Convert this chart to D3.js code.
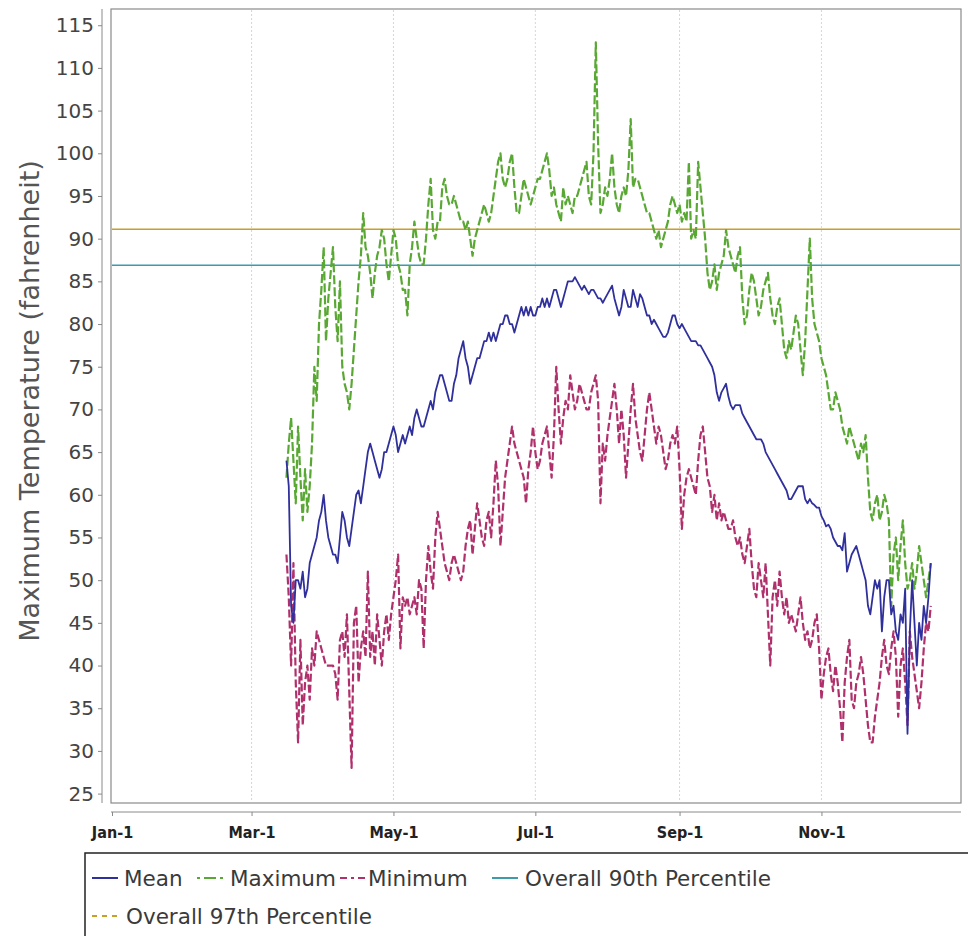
<!DOCTYPE html>
<html><head><meta charset="utf-8">
<script src="https://cdn.jsdelivr.net/npm/d3@7"></script>
<style>body{margin:0;background:#fff}svg{display:block}</style>
</head><body><svg id="c" width="968" height="936"></svg>
<script>
// ---------- DATA ----------
// Daily values starting Mar-16 (day 75 of a leap year) through Dec-17
const firstDay = { month: 2, day: 16 };
const meanValues = [
64,61,47,45,50,50,49,51,48,49,
52,53,54,55,57,58,60,57,55,54,
53,53,52,55,58,57,55,54,56,58,
60,60.5,59,61,63,65,66,65,64,63,
62,63,65,65,66,67,68,67,65,66,
67,66,67,68,67,69,70,69,68,68,
69,70,71,70,72,73,74,74,73,72,
71,71,73,74,76,77,78,76,75,73,
74,75,76,76,77,78,78,79,78,79,
78,79,80,80,81,81,80,80,79,80,
81,82,81,82,81,82,81,81,82,82,
83,82,83,82,83,84,84,83,82,83,
84,85,85,85,85.5,85,84.5,84,84.5,84,
83.5,84,84,83.5,83,83,82.5,83,83.5,84,
84.5,83,82,81,82,84,83,82,82,84,
83,82,83.5,83,82,81,81,80,80.5,80,
79.5,79,78.5,78.5,79,80,81,81,80,79.5,
80,79.5,79,78.5,78,78,78,77.5,77.5,77,
76.5,76,75.5,75,74,72,71,72,72.5,73,
71.5,70.5,70,70.5,70.5,70.5,69.5,69,68.5,68,
67.5,67,66.5,66.5,66.5,66,65,64.5,64,63.5,
63,62.5,62,61.5,61,60.5,59.5,59.5,60,60.5,
61,61,61,59.5,59,59.5,59,58.8,58.5,58.5,
57.5,57,56.3,56.5,56,55,54.5,54,54,53.5,
55.5,51,52,53,53.5,54,53,52,51,50,
47,46,48,50,49,50,44,48,50,50,
46,47,44,43,46,45,49,32,44,50,
45,40,45,43,47,45,48,52
];
const maxValues = [
62,66,69,64,59,68,62,57,63,58,
61,66,75,71,80,84,89,78,83,86,
89,82,78,85,75,73,72,70,73,77,
81,85,88,93,89,88,86,83,86,88,
89,91,90,87,85,88,91,90,87,86,
84,84,81,87,89,92,90,88,87,87,
90,94,97,91,90,92,92,96,97,95,
94,94,95,94,93,92,92,91,92,90,
88,90,91,92,93,94,93,92,93,95,
97,99,100,97,96,97,99,100,96,93,
93,95,97,96,95,94,95,96,97,97,
98,99,100,98,95,96,94,93,92,96,
94,95,94,93,95,95,96,97,98,99,
95,94,100,113,101,93,94,96,95,97,
100,96,94,93,95,96,95,98,104,96,
97,97,96,95,94,93,93,92,91,90,
91,89,90,91,92,94,95,94,93,94,
92,93,92,99,90,91,90,99,96,93,
90,86,84,85,87,84,86,87,88,91,
89,88,87,86,88,89,83,80,81,84,
86,85,83,81,82,84,85,86,83,81,
80,82,83,80,77,76,78,77,79,81,
80,77,74,78,84,90,83,80,79,78,
76,75,74,72,70,70,72,71,70,68,
67,66,68,67,66,65,64,66,65,67,
62,58,57,59,60,57,58,60,59,57,
47,53,55,50,54,57,52,49,50,52,
49,51,54,52,50,48,50,52
];
const minValues = [
53,48,40,52,38,31,43,33,38,40,
36,42,40,44,43,42,41,40,40,40,
40,39,36,43,44,41,46,37,28,45,
47,38,42,44,41,51,41,44,40,46,
43,40,44,46,43,46,48,50,53,42,
48,47,48,46,47,48,46,50,49,42,
50,54,51,49,55,58,56,54,52,51,
50,52,53,52,51,50,51,54,56,57,
53,56,59,57,55,54,57,58,55,59,
64,61,54,58,62,64,66,68,66,65,
64,63,62,59,63,65,68,65,63,64,
66,67,68,65,62,67,75,70,66,69,
71,70,74,72,70,71,73,72,71,70,
70,72,73,74,71,59,66,64,67,69,
71,73,70,66,70,67,62,66,70,73,
69,67,65,64,67,70,72,70,68,66,
68,67,65,63,64,66,67,66,68,63,
56,60,62,63,62,61,60,64,67,68,
65,62,61,58,60,57,59,57,58,57,
56,56,57,55,54,55,53,52,54,56,
52,49,48,52,50,48,52,46,40,48,
50,47,51,48,46,48,45,46,45,44,
46,48,45,43,44,42,43,45,46,42,
36,39,41,42,39,37,40,38,35,31,
38,41,43,36,35,38,39,41,39,36,
33,31,31,34,36,38,41,43,40,39,
42,44,41,34,40,42,38,33,44,41,
39,37,35,38,42,45,44,47
];
const percentile90 = 86.9;
const percentile97 = 91.1;
const yTickValues = [25,30,35,40,45,50,55,60,65,70,75,80,85,90,95,100,105,110,115];
const xTickMonths = [0,2,4,6,8,10];
const xTickLabels = ["Jan-1","Mar-1","May-1","Jul-1","Sep-1","Nov-1"];
const legendLabels = ["Mean","Maximum","Minimum","Overall 90th Percentile","Overall 97th Percentile"];
const yAxisTitle = "Maximum Temperature (fahrenheit)";

// ---------- STYLE ----------
const C = { mean:"#30309c", max:"#5aa834", min:"#b0306c", p90:"#3f9aaa", p97:"#c8a028" };
const FONT = "'DejaVu Sans', Verdana, sans-serif";

const svg = d3.select("#c");
const plot = { left:111, top:9, right:961, bottom:803 };

const x = d3.scaleUtc()
  .domain([Date.UTC(2000,0,1), Date.UTC(2000,11,31)])
  .range([112, 961]);
const y = d3.scaleLinear().domain([23.9, 116.9]).range([plot.bottom, plot.top]);
const dateAt = i => new Date(Date.UTC(2000, firstDay.month, firstDay.day + i));

// plot background & border
svg.append("rect").attr("x",plot.left).attr("y",plot.top)
  .attr("width",plot.right-plot.left).attr("height",plot.bottom-plot.top)
  .attr("fill","#fff").attr("stroke","#8a8a8a").attr("stroke-width",1.2);

const tickDates = xTickMonths.map(m => new Date(Date.UTC(2000,m,1)));
// vertical grid lines
svg.append("g").selectAll("line").data(tickDates.slice(1)).join("line")
  .attr("x1",d=>x(d)).attr("x2",d=>x(d))
  .attr("y1",plot.top+1).attr("y2",plot.bottom-1)
  .attr("stroke","#d6d6d6").attr("stroke-width",1).attr("stroke-dasharray","2,2");

// percentile lines
svg.append("line").attr("x1",plot.left+1).attr("x2",plot.right-1)
  .attr("y1",y(percentile97)).attr("y2",y(percentile97))
  .attr("stroke",C.p97).attr("stroke-width",1.5);
svg.append("line").attr("x1",plot.left+1).attr("x2",plot.right-1)
  .attr("y1",y(percentile90)).attr("y2",y(percentile90))
  .attr("stroke",C.p90).attr("stroke-width",1.5);

const line = d3.line().x((d,i)=>x(dateAt(i))).y(d=>y(d));
svg.append("path").datum(maxValues).attr("d",line)
  .attr("fill","none").attr("stroke",C.max).attr("stroke-width",2.2)
  .attr("stroke-dasharray","9,3").attr("stroke-linejoin","round");
svg.append("path").datum(minValues).attr("d",line)
  .attr("fill","none").attr("stroke",C.min).attr("stroke-width",2.2)
  .attr("stroke-dasharray","8,3").attr("stroke-linejoin","round");
svg.append("path").datum(meanValues).attr("d",line)
  .attr("fill","none").attr("stroke",C.mean).attr("stroke-width",1.8)
  .attr("stroke-linejoin","round");

// y axis
const yAxis = svg.append("g").attr("transform","translate(102,0)")
  .call(d3.axisLeft(y).tickValues(yTickValues).tickSize(4).tickPadding(4).tickSizeOuter(0));
yAxis.select(".domain").attr("stroke","#8a8a8a").attr("d",`M0,${plot.top}V${plot.bottom}`);
yAxis.selectAll(".tick line").attr("stroke","#8a8a8a");
yAxis.selectAll("text").attr("font-family",FONT).attr("font-size",20).attr("fill","#444");

// x axis
const xAxis = svg.append("g").attr("transform","translate(0,812)")
  .call(d3.axisBottom(x).tickValues(tickDates).tickFormat((d,i)=>xTickLabels[i])
    .tickSize(4).tickPadding(11).tickSizeOuter(0));
xAxis.select(".domain").attr("stroke","#8a8a8a").attr("d",`M${plot.left},0H${plot.right}`);
xAxis.selectAll(".tick line").attr("stroke","#8a8a8a");
xAxis.selectAll("text").attr("font-family","'DejaVu Sans Condensed', 'DejaVu Sans', sans-serif")
  .attr("font-weight","bold").attr("font-size",16).attr("fill","#222");

// y title
svg.append("text").attr("transform","translate(39,401) rotate(-90)")
  .attr("text-anchor","middle").attr("font-family",FONT).attr("font-size",27)
  .attr("fill","#555").text(yAxisTitle);

// legend
svg.append("rect").attr("x",85).attr("y",853).attr("width",900).attr("height",110)
  .attr("fill","#fff").attr("stroke","#222").attr("stroke-width",1.5);
const legendItems = [
  {k:"mean", sx:92, tx:124, row:0, dash:null},
  {k:"max",  sx:197, tx:230, row:0, dash:"3,4,12,4"},
  {k:"min",  sx:340, tx:368, row:0, dash:"7,4,3,4"},
  {k:"p90",  sx:492, tx:525, row:0, dash:null},
  {k:"p97",  sx:92, tx:126, row:1, dash:"5,5"}
];
const lg = svg.append("g");
legendItems.forEach((it,i)=>{
  const cy = it.row===0 ? 878 : 916;
  lg.append("line").attr("x1",it.sx).attr("x2",it.sx+26).attr("y1",cy).attr("y2",cy)
    .attr("stroke",C[it.k]).attr("stroke-width",2)
    .attr("stroke-dasharray",it.dash);
  lg.append("text").attr("x",it.tx).attr("y",cy).attr("dy","0.36em")
    .attr("font-family",FONT).attr("font-size",21.5).attr("fill","#3a3a3a")
    .text(legendLabels[i]);
});
</script></body></html>
